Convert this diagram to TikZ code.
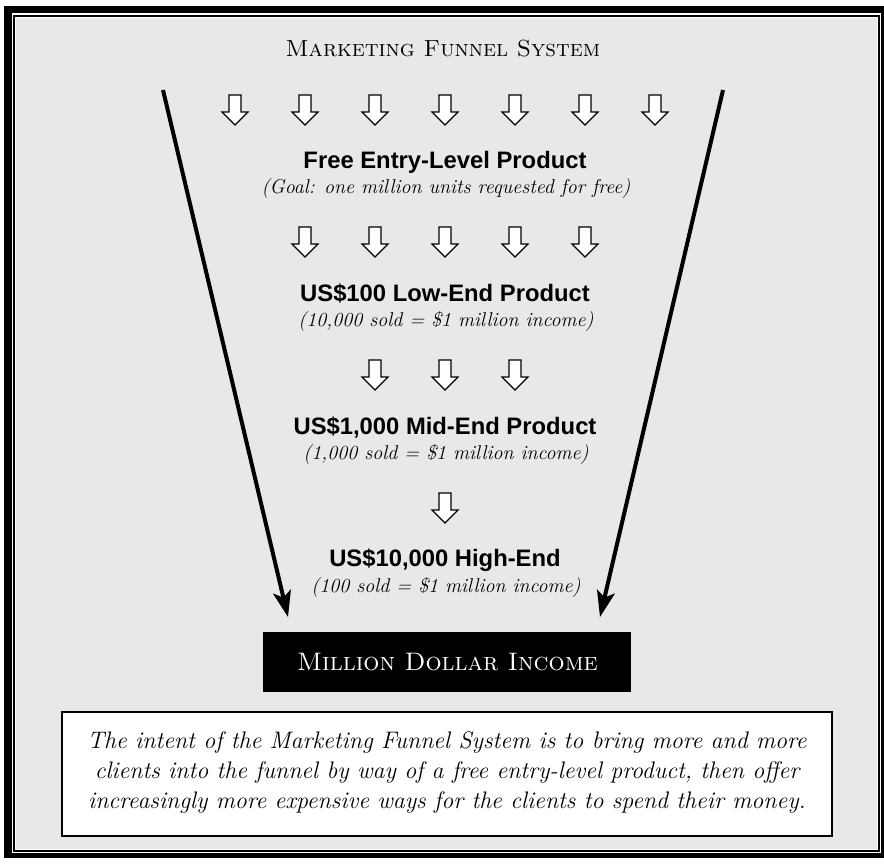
\documentclass[tikz,border=0pt]{standalone}
\usepackage{fontspec}
\newfontfamily\sansb{Liberation Sans}
\usetikzlibrary{arrows.meta}
\definecolor{bggray}{HTML}{E8E8E8}
\begin{document}
\begin{tikzpicture}[x=1pt,y=-1pt,
  prod/.style={font=\sansb\bfseries\fontsize{23.8}{28}\selectfont, inner sep=0, anchor=base},
  note/.style={font=\itshape\fontsize{20}{24}\selectfont, inner sep=0, anchor=base},
  body/.style={font=\itshape\fontsize{23.9}{30}\selectfont, inner sep=0, anchor=base},
  downarr/.pic={\draw[line width=1.1pt, fill=white, line join=miter] (-6,-15) -- (6,-15) -- (6,2) -- (13,2) -- (0,15) -- (-13,2) -- (-6,2) -- cycle;},
  funnel/.style={line width=4pt, -{Stealth[length=26pt,width=18pt,inset=6pt]}}
]
\useasboundingbox (0,0) rectangle (884,863);
% frame
\fill[black] (4,6) rectangle (884,858);
\fill[white] (11.7,13.3) rectangle (881,853);
\draw[line width=2pt] (13.7,15.7) rectangle (879,850.5);
\fill[bggray] (15.6,17.6) rectangle (877,848.6);

% title
\node[inner sep=0, anchor=base, font=\scshape\fontsize{23.3}{28}\selectfont] (title) at (443,56.7) {Marketing Funnel System};

% funnel arrows
\coordinate (ls) at (163,90);
\coordinate (le) at (288,617);
\coordinate (rs) at (723,90);
\coordinate (re) at (600,617);
\draw[funnel] (ls) -- (le);
\draw[funnel] (rs) -- (re);

% rows of down arrows
\foreach \x in {235,305,375,445,515,585,655} \pic at (\x,110) {downarr};
\foreach \x in {305,375,445,515,585} \pic at (\x,242) {downarr};
\foreach \x in {375,445,515} \pic at (\x,375) {downarr};
\pic at (445,508) {downarr};

% products
\node[prod] (p1) at (445,168) {Free Entry-Level Product};
\node[note] (n1) at (446,193) {(Goal: one million units requested for free)};
\node[prod] (p2) at (445,301.5) {US\$100 Low-End Product};
\node[note] (n2) at (446,326) {(10,000 sold = \$1 million income)};
\node[prod] (p3) at (445,434) {US\$1,000 Mid-End Product};
\node[note] (n3) at (446,459) {(1,000 sold = \$1 million income)};
\node[prod] (p4) at (445,566.7) {US\$10,000 High-End};
\node[note] (n4) at (446,592) {(100 sold = \$1 million income)};

% income box
\node[fill=black, minimum width=368pt, minimum height=60pt, inner sep=0] (income) at (447,662) {};
\node[inner sep=0, anchor=base, text=white, font=\scshape\fontsize{25.3}{28}\selectfont] (incometext) at (447.5,670.7) {Million Dollar Income};

% note box
\node[draw, line width=1.8pt, fill=white, minimum width=770pt, minimum height=124pt, inner sep=0] (notebox) at (447,774) {};
\node[body] (b1) at (447,748) {The intent of the Marketing Funnel System is to bring more and more};
\node[body] (b2) at (447,778) {clients into the funnel by way of a free entry-level product, then offer};
\node[body] (b3) at (447,808) {increasingly more expensive ways for the clients to spend their money.};
\end{tikzpicture}
\end{document}
